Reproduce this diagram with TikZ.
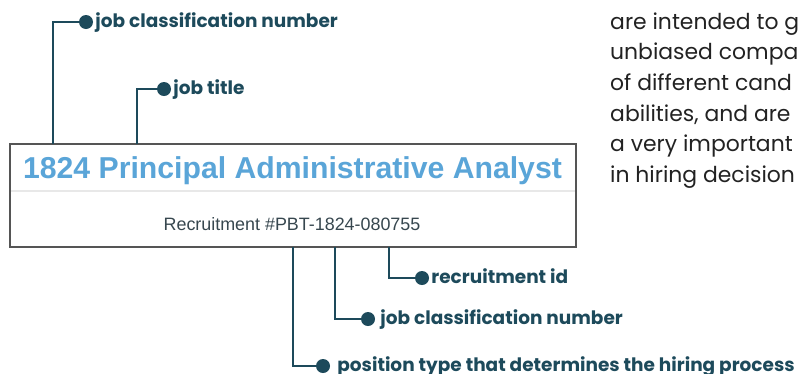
\documentclass[tikz,border=0pt]{standalone}
\usepackage{fontspec}
\setmainfont{Poppins}
\newfontfamily\titlefont{Liberation Sans}
\usetikzlibrary{positioning}

\definecolor{leadteal}{RGB}{29,74,91}
\definecolor{titleblue}{RGB}{90,165,216}
\definecolor{boxgray}{RGB}{85,85,85}
\definecolor{recgray}{RGB}{55,71,79}
\definecolor{sepgray}{RGB}{232,232,232}
\definecolor{paratext}{RGB}{34,34,34}

\tikzset{
  leader/.style={draw=leadteal, line width=2bp},
  pindot/.style={circle, fill=leadteal, minimum size=14bp, inner sep=0pt},
  tag/.style={text=leadteal, font=\fontsize{18.5bp}{20bp}\selectfont\bfseries, inner sep=0pt, anchor=base west},
  para/.style={text=paratext, font=\fontsize{21.9bp}{24bp}\selectfont, inner sep=0pt, anchor=base west},
}

\begin{document}
\begin{tikzpicture}[x=1bp, y=-1bp]
\useasboundingbox (0,0) rectangle (800,373);

% the posting card
\draw[boxgray, line width=2bp, fill=white] (10,144) rectangle (576,247);
\draw[sepgray, line width=1.5bp] (11,191) -- (575,191);
\node[anchor=base, inner sep=0pt, text=titleblue, font=\titlefont\fontsize{30.2bp}{32bp}\selectfont\bfseries] (title) at (292.5,178) {1824 Principal Administrative Analyst};
\node[anchor=base, inner sep=0pt, text=recgray, font=\titlefont\fontsize{17.9bp}{19bp}\selectfont] (recruit) at (292,230) {Recruitment \#PBT-1824-080755};

% leaders above
\node[pindot] (dotA) at (86,22) {};
\node[pindot] (dotB) at (164,89) {};
\coordinate (footA) at (53,144);
\coordinate (footB) at (137,144);
\draw[leader] (footA) |- (dotA);
\draw[leader] (footB) |- (dotB);
\node[tag] (labA) at ([xshift=2bp,yshift=-5bp]dotA.east) {job classification number};
\node[tag] (labB) at ([xshift=2bp,yshift=-5bp]dotB.east) {job title};

% leaders below
\node[pindot] (dotC) at (422,278) {};
\node[pindot] (dotD) at (368,319) {};
\node[pindot] (dotE) at (323,366) {};
\coordinate (footC) at (389,247);
\coordinate (footD) at (335,247);
\coordinate (footE) at (293,247);
\draw[leader] (footC) |- (dotC);
\draw[leader] (footD) |- (dotD);
\draw[leader] (footE) |- (dotE);
\node[tag] (labC) at ([xshift=2bp,yshift=-5bp]dotC.east) {recruitment id};
\node[tag] (labD) at ([xshift=5bp,yshift=-5bp]dotD.east) {job classification number};
\node[tag] (labE) at ([xshift=7bp,yshift=-5bp]dotE.east) {position type that determines the hiring process};

% cut-off paragraph on the right
\begin{scope}
\clip (0,0) rectangle (800,373);
\foreach \i/\ln in {0/are intended to g, 1/unbiased compa, 2/of different cand, 3/{abilities, and are}, 4/a very important, 5/in hiring decision}
  \node[para] at (610, 29+30.7*\i) {\ln};
\end{scope}
\end{tikzpicture}
\end{document}
